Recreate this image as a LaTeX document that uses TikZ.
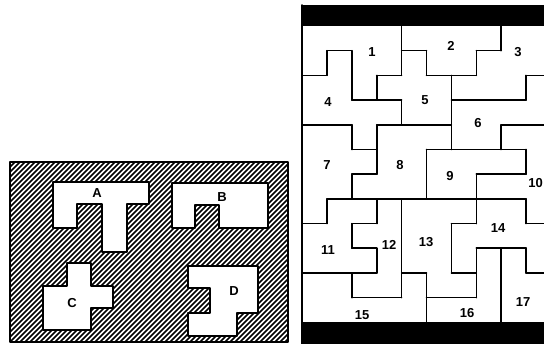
\documentclass[tikz,border=0pt]{standalone}
\usepackage{fontspec}
\setsansfont{Liberation Sans}
\begin{document}
\begin{tikzpicture}[x=1pt,y=-1pt,line cap=round,line join=round,
  lab/.style={font=\sffamily\bfseries\fontsize{13}{13}\selectfont,inner sep=0pt},
  gridline/.style={line width=1.6pt},
  hatchline/.style={line width=1.7pt},
  hole/.style={fill=white,draw=black,line width=1.5pt}]
\useasboundingbox (0,0) rectangle (544,344);
\clip (0,0) rectangle (544,344);

% ---------- left hatched plate ----------
\begin{scope}
  \clip (10,162) rectangle (288,342);
  \foreach \k in {0,5,...,465} \draw[hatchline] (\k-170,342) -- (\k+10,162);
\end{scope}
\draw[hole] (53,182) -- (149,182) -- (149,204) -- (127,204) -- (127,252) -- (102,252)
  -- (102,204) -- (77,204) -- (77,228) -- (53,228) -- cycle;
\draw[hole] (172,183) -- (268,183) -- (268,228) -- (219,228) -- (219,205) -- (195,205)
  -- (195,228) -- (172,228) -- cycle;
\draw[hole] (67,263) -- (91,263) -- (91,286) -- (113,286) -- (113,308) -- (91,308)
  -- (91,330) -- (43,330) -- (43,286) -- (67,286) -- cycle;
\draw[hole] (188,266) -- (258,266) -- (258,313) -- (237,313) -- (237,336) -- (188,336)
  -- (188,313) -- (210,313) -- (210,288) -- (188,288) -- cycle;
\draw[line width=2pt] (10,162) rectangle (288,342);
\node[lab] (lA) at (97,193) {A};
\node[lab] (lB) at (222,197) {B};
\node[lab] (lC) at (72,303) {C};
\node[lab] (lD) at (234,291) {D};

% ---------- right puzzle ----------
\fill (302,5) rectangle (560,26);
\fill (302,322) rectangle (560,350);
\draw[gridline] (302,5) -- (302,344);
\begin{scope}[shift={(302,26)},x=24.9pt,y=-24.7pt]
  \draw[gridline]
    (1,1)--(2,1) (4,1)--(5,1) (7,1)--(8,1)
    (0,2)--(1,2) (3,2)--(4,2) (5,2)--(7,2) (9,2)--(10.5,2)
    (2,3)--(4,3) (6,3)--(9,3)
    (0,4)--(2,4) (3,4)--(6,4) (8,4)--(10.5,4)
    (2,5)--(3,5) (5,5)--(9,5)
    (2,6)--(3,6) (7,6)--(9,6)
    (1,7)--(9,7)
    (0,8)--(1,8) (2,8)--(3,8) (6,8)--(7,8) (9,8)--(10.5,8)
    (2,9)--(3,9) (7,9)--(9,9)
    (0,10)--(3,10) (4,10)--(5,10) (6,10)--(7,10) (9,10)--(10.5,10)
    (2,11)--(4,11) (5,11)--(7,11);
  \draw[gridline]
    (1,1)--(1,2) (1,7)--(1,8)
    (2,1)--(2,3) (2,4)--(2,5) (2,6)--(2,7) (2,8)--(2,9) (2,10)--(2,11)
    (3,2)--(3,3) (3,4)--(3,6) (3,7)--(3,8) (3,9)--(3,10)
    (4,0)--(4,2) (4,3)--(4,4) (4,7)--(4,11)
    (5,1)--(5,2) (5,5)--(5,7) (5,10)--(5,12)
    (6,2)--(6,5) (6,8)--(6,10)
    (7,1)--(7,2) (7,6)--(7,8) (7,9)--(7,11)
    (8,0)--(8,1) (8,4)--(8,5) (8,9)--(8,12)
    (9,2)--(9,3) (9,5)--(9,6) (9,7)--(9,8) (9,9)--(9,10);
\end{scope}
\node[lab] (n1) at (372,52) {1};
\node[lab] (n2) at (451,46) {2};
\node[lab] (n3) at (518,52) {3};
\node[lab] (n4) at (328,102) {4};
\node[lab] (n5) at (425,100) {5};
\node[lab] (n6) at (478,123) {6};
\node[lab] (n7) at (327,165) {7};
\node[lab] (n8) at (400,165) {8};
\node[lab] (n9) at (450,176) {9};
\node[lab,anchor=east] (n10) at (543,183) {10};
\node[lab] (n11) at (328,250) {11};
\node[lab] (n12) at (389,245) {12};
\node[lab] (n13) at (426,242) {13};
\node[lab] (n14) at (498,228) {14};
\node[lab] (n15) at (362,315) {15};
\node[lab] (n16) at (467,313) {16};
\node[lab] (n17) at (523,302) {17};
\end{tikzpicture}
\end{document}
